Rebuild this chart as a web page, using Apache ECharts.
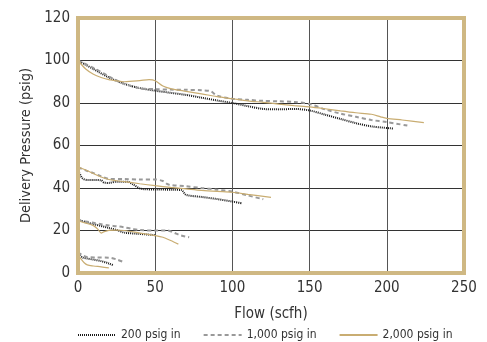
<!DOCTYPE html>
<html>
<head>
<meta charset="utf-8">
<script src="https://cdn.jsdelivr.net/npm/echarts@6/dist/echarts.min.js"></script>
<style>
  html, body { margin: 0; padding: 0; background: #fff; }
  #chart { width: 487px; height: 342px; }
</style>
</head>
<body>
<div id="chart"></div>
<script>
// flow (scfh), delivery pressure (psig) — four regulator settings per inlet pressure
var xTicks = [0, 50, 100, 150, 200, 250];
var yTicks = [0, 20, 40, 60, 80, 100, 120];
var legendNames = ['200 psig in', '1,000 psig in', '2,000 psig in'];

// 200 psig in
var in200_set100 = [[0,100],[10,96],[20,92],[30,89],[40,87],[50,85.8],[60,84.8],[70,83.8],[80,82.5],[90,81.2],[100,80],[110,78.5],[120,77.2],[130,77],[140,77.2],[150,76.5],[160,74.5],[170,72.5],[180,70.5],[190,69],[204,68]];
var in200_set50 = [[0,50],[1,47],[3,44.5],[6,43.8],[10,43.8],[15,43.6],[17,42.5],[20,42.4],[25,43],[32,43],[36,41.5],[41,39.6],[50,39.3],[60,39.2],[67,39],[70,36.8],[80,35.8],[90,34.8],[100,33.6],[106,32.8]];
var in200_set25 = [[0,25],[10,23],[20,21.2],[25,20.3],[30,19],[40,18.4],[50,17.8]];
var in200_set10 = [[0,9],[3,7.3],[6,6.8],[10,6.3],[15,5.6],[20,4.5],[23,3.6]];

// 1,000 psig in
var in1000_set100 = [[0,100],[10,96.5],[20,92.5],[30,89],[40,87],[50,86.5],[60,86.3],[70,86.2],[80,86],[86,85.5],[90,83.5],[100,82],[110,81.5],[120,81],[130,80.8],[140,80.5],[150,79.5],[160,77],[170,75],[180,73.5],[190,72],[200,71],[214,69.3]];
var in1000_set50 = [[0,49.7],[5,48.3],[10,47],[15,45.5],[20,44.3],[30,44.2],[40,44],[50,44],[55,43.3],[58,41.8],[60,41.4],[70,40.8],[80,40],[90,39.2],[100,38.3],[110,36.5],[120,34.7]];
var in1000_set25 = [[0,24.8],[5,24.2],[10,23.6],[15,23],[20,22.4],[25,22],[30,21.5],[35,20.8],[40,20.2],[50,20],[58,20],[62,19],[66,17.8],[72,16.8]];
var in1000_set10 = [[0,9.8],[3,8.3],[6,7.5],[12,7.3],[20,7.2],[25,6.4],[30,5]];

// 2,000 psig in
var in2000_set100 = [[0,100],[5,96],[10,93.5],[15,92],[20,91],[30,90],[40,90.5],[46,91],[50,90.5],[55,88],[60,86.8],[70,85.5],[80,84.3],[90,83],[100,82],[110,81],[120,80.3],[130,79.5],[140,78.8],[150,78.2],[160,77.3],[170,76.3],[180,75.4],[190,74.7],[196,73.5],[200,72.8],[210,72],[224,70.8]];
var in2000_set50 = [[0,50],[5,48.5],[10,46.8],[15,45.2],[20,44],[25,43.4],[30,43],[40,42],[50,41.1],[60,40.3],[70,39.6],[80,38.9],[90,38.4],[100,38],[110,37],[125,35.6]];
var in2000_set25 = [[0,24.6],[5,23.5],[10,22.3],[13,20.5],[15,18.8],[17,19.5],[20,20.1],[25,20.2],[30,20],[40,18.8],[50,17.6],[55,16.8],[60,15.3],[65,13.6]];
var in2000_set10 = [[0,8.5],[2,6.5],[4,4.8],[6,3.8],[10,3.3],[15,2.9],[20,2.4]];

var font = "'DejaVu Sans Condensed', 'Liberation Sans Narrow', 'DejaVu Sans', sans-serif";
var narrow = 'condensed';  // font-stretch goes into the canvas font string
var tan = '#cfb883';

var styles = [
  { color: '#1a1a1a', width: 2, type: [1, 1] },
  { color: '#999999', width: 2, type: [4, 3] },
  { color: '#c9ad72', width: 1.2, type: 'solid' }
];
var groups = [
  [in200_set100, in200_set50, in200_set25, in200_set10],
  [in1000_set100, in1000_set50, in1000_set25, in1000_set10],
  [in2000_set100, in2000_set50, in2000_set25, in2000_set10]
];

var series = [];
groups.forEach(function (g, i) {
  g.forEach(function (d) {
    series.push({
      name: legendNames[i],
      type: 'line',
      data: d,
      showSymbol: false,
      symbol: 'none',
      smooth: 0.3,
      silent: true,
      color: styles[i].color,
      lineStyle: { color: styles[i].color, width: styles[i].width, type: styles[i].type }
    });
  });
});

var chart = echarts.init(document.getElementById('chart'));
chart.setOption({
  animation: false,
  textStyle: { fontFamily: font, fontWeight: narrow },
  grid: {
    left: 78, right: 23, top: 18, bottom: 69,
    show: true, borderColor: tan, borderWidth: 4, z: 10
  },
  legend: {
    data: legendNames,
    top: 324,
    left: 72,
    itemWidth: 38,
    itemHeight: 10,
    itemGap: 22,
    itemStyle: { opacity: 0 },
    textStyle: { fontFamily: font, fontWeight: narrow, fontSize: 12, color: '#333' }
  },
  xAxis: {
    type: 'value',
    min: 0, max: 250, interval: 50,
    name: 'Flow (scfh)',
    nameLocation: 'middle',
    nameGap: 34,
    nameTextStyle: { fontFamily: font, fontWeight: narrow, fontSize: 15, color: '#333' },
    axisLine: { show: false },
    axisTick: { show: false },
    axisLabel: { fontFamily: font, fontWeight: narrow, fontSize: 15, color: '#333', margin: 8 },
    splitLine: { show: true, lineStyle: { color: '#555', width: 1 } }
  },
  yAxis: {
    type: 'value',
    min: 0, max: 120, interval: 20,
    name: 'Delivery Pressure (psig)',
    nameLocation: 'middle',
    nameGap: 34,
    nameTextStyle: { fontFamily: font, fontWeight: narrow, fontSize: 14.5, color: '#333' },
    axisLine: { show: false },
    axisTick: { show: false },
    axisLabel: { fontFamily: font, fontWeight: narrow, fontSize: 15, color: '#333', margin: 8 },
    splitLine: { show: true, lineStyle: { color: '#333', width: 1 } }
  },
  series: series
});
</script>
</body>
</html>
